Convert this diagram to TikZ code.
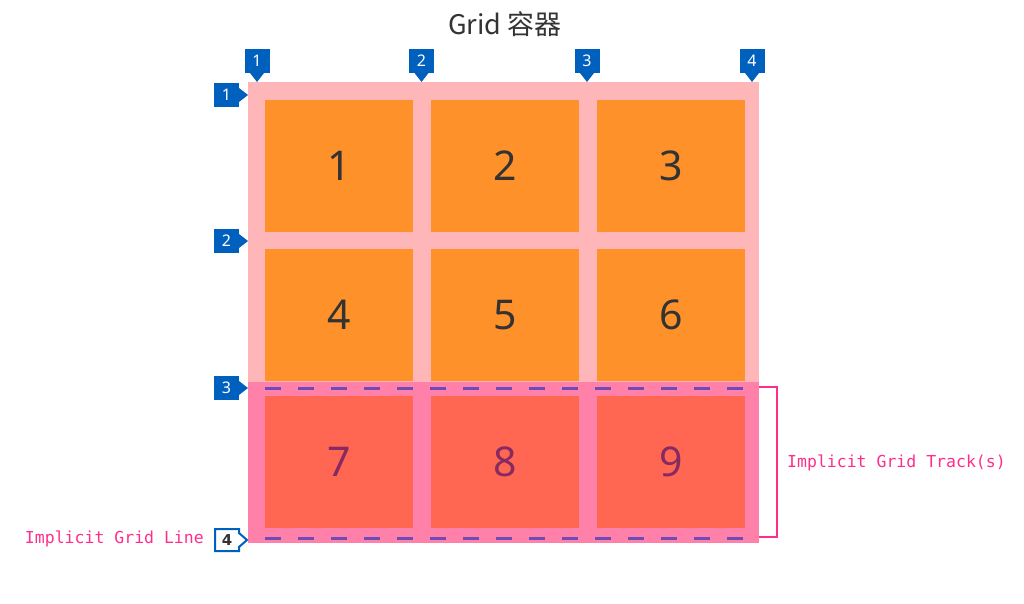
\documentclass[tikz,border=0pt]{standalone}
\usepackage{fontspec}
\setmainfont{Noto Sans}
\setmonofont{DejaVu Sans Mono}
\newfontfamily\cjkfont{Noto Sans CJK SC}
\newfontfamily\heavyfont{DejaVu Sans}
\usetikzlibrary{positioning}
\definecolor{gridpink}{RGB}{255, 182, 185}
\definecolor{implpink}{RGB}{255, 128, 168}
\definecolor{itemorange}{RGB}{255, 145, 42}
\definecolor{implred}{RGB}{255, 103, 82}
\definecolor{dashpurple}{RGB}{111, 75, 184}
\definecolor{markblue}{RGB}{0, 96, 190}
\definecolor{trackpink}{RGB}{255, 46, 138}
\definecolor{digitgrey}{RGB}{51, 51, 51}
\definecolor{impldigit}{RGB}{135, 42, 98}

\begin{document}
\begin{tikzpicture}[
    x=1pt, y=-1pt,
    item/.style={
        fill=itemorange,
        minimum width=148pt,
        minimum height=132pt,
        text=digitgrey,
        font=\fontsize{41}{41}\selectfont,
        inner sep=0pt,
        outer sep=0pt,
        node distance=18pt
    },
    implitem/.style={item, fill=implred, text=impldigit},
    marker/.style={
        fill=markblue,
        text=white,
        minimum width=25pt,
        minimum height=24pt,
        font=\fontsize{16}{16}\selectfont,
        inner sep=0pt,
        outer sep=0pt
    },
    implline/.style={dashpurple, line width=3pt, dash pattern=on 16pt off 17pt},
    tracklabel/.style={text=trackpink, font=\ttfamily\fontsize{16.5}{16.5}\selectfont, inner sep=0pt}
]
\useasboundingbox (0,0) rectangle (1024,604);

% grid container
\fill[gridpink] (248,82) rectangle (759,382);
\fill[implpink] (248,382) rectangle (759,543);

% grid items
\node[item] (c1) at (339,166) {1};
\node[item, right=of c1] (c2) {2};
\node[item, right=of c2] (c3) {3};
\node[item, below=17pt of c1] (c4) {4};
\node[item, right=of c4] (c5) {5};
\node[item, right=of c5] (c6) {6};
\node[implitem, below=15pt of c4] (c7) {7};
\node[implitem, right=of c7] (c8) {8};
\node[implitem, right=of c8] (c9) {9};

% implicit lines
\draw[implline] (265,388) -- (745,388);
\draw[implline] (265,538) -- (745,538);

% column line numbers
\foreach \i/\x in {1/257, 2/421.5, 3/587, 4/752} {
    \node[marker] (t\i) at (\x,61) {\i};
    \fill[markblue] ([xshift=-7pt]t\i.south) -- ([xshift=7pt]t\i.south) -- ([yshift=-9pt]t\i.south) -- cycle;
}

% row line numbers
\foreach \i/\y in {1/95, 2/241, 3/388} {
    \node[marker] (l\i) at (226.5,\y) {\i};
    \fill[markblue] ([yshift=7pt]l\i.east) -- ([yshift=-7pt]l\i.east) -- ([xshift=9pt]l\i.east) -- cycle;
}
\draw[markblue, fill=white, line width=2pt, line join=miter]
    (215,529) -- (239,529) -- (239,533) -- (247,540) -- (239,547) -- (239,551) -- (215,551) -- cycle;
\node[text=digitgrey, font=\heavyfont\bfseries\fontsize{15}{15}\selectfont, inner sep=0pt] (l4) at (227,540) {4};

% implicit track bracket
\draw[trackpink, line width=2.5pt] (759,387) -- (777,387) -- (777,537) -- (759,537);
\node[tracklabel, anchor=west] (track) at (787,463) {Implicit Grid Track(s)};
\node[tracklabel, anchor=east] (line) at (204,539) {Implicit Grid Line};

% title
\node[text=digitgrey, font=\cjkfont\fontsize{27}{27}\selectfont] (title) at (505,24) {Grid 容器};
\end{tikzpicture}
\end{document}
